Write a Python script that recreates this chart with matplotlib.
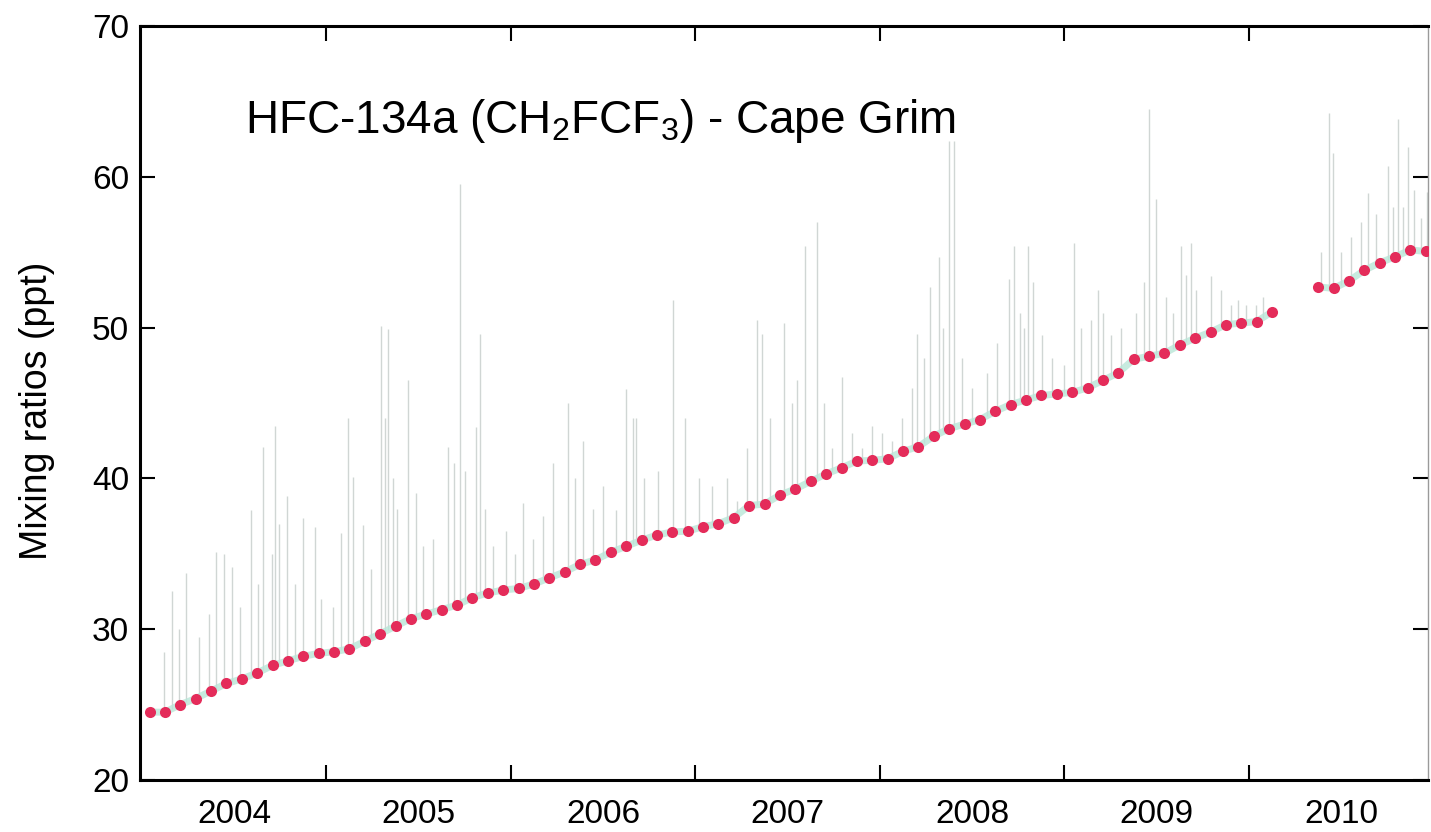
import numpy as np
import matplotlib.pyplot as plt
from matplotlib.ticker import FixedLocator, NullFormatter, FixedFormatter

plt.rcParams['font.family'] = ['Liberation Sans', 'DejaVu Sans']
plt.rcParams['mathtext.fontset'] = 'custom'
plt.rcParams['mathtext.rm'] = 'Liberation Sans'

# ---------- MONTHLY BASELINE (ppt) ----------
years = [2004, 2005, 2006, 2007, 2008, 2009, 2010]
base_2004 = [24.5, 24.5, 25.0, 25.4, 25.9, 26.4, 26.7, 27.1, 27.6, 27.9, 28.2, 28.4]
base_2005 = [28.5, 28.7, 29.2, 29.7, 30.2, 30.7, 31.0, 31.3, 31.6, 32.1, 32.4, 32.6]
base_2006 = [32.7, 33.0, 33.4, 33.8, 34.3, 34.6, 35.1, 35.5, 35.9, 36.25, 36.45, 36.5]
base_2007 = [36.8, 37.0, 37.4, 38.2, 38.3, 38.9, 39.3, 39.8, 40.3, 40.7, 41.15, 41.2]
base_2008 = [41.3, 41.8, 42.1, 42.8, 43.3, 43.6, 43.9, 44.45, 44.9, 45.2, 45.5, 45.6]
base_2009 = [45.7, 46.0, 46.5, 47.0, 47.9, 48.1, 48.3, 48.85, 49.3, 49.7, 50.2, 50.3]
base_2010 = [50.4, 51.05, np.nan, np.nan, 52.7, 52.6, 53.1, 53.8, 54.3, 54.7, 55.15, 55.05]

# ---------- POLLUTION EVENTS (time in decimal years, peak ppt) ----------
spike_time = [
    2004.119, 2004.162, 2004.200, 2004.238, 2004.308, 2004.362, 2004.400, 2004.443,
    2004.486, 2004.530, 2004.589, 2004.632, 2004.659, 2004.703, 2004.724, 2004.741,
    2004.784, 2004.832, 2004.876, 2004.941, 2004.973,
    2005.038, 2005.081, 2005.119, 2005.146, 2005.200, 2005.243, 2005.297, 2005.319,
    2005.335, 2005.362, 2005.384, 2005.443, 2005.486, 2005.524, 2005.578, 2005.659,
    2005.692, 2005.724, 2005.751, 2005.811, 2005.832, 2005.859, 2005.903, 2005.973,
    2006.022, 2006.065, 2006.119, 2006.173, 2006.227, 2006.308, 2006.346, 2006.389,
    2006.443, 2006.497, 2006.568, 2006.622, 2006.659, 2006.676, 2006.724, 2006.795,
    2006.876, 2006.941,
    2007.022, 2007.092, 2007.173, 2007.227, 2007.281, 2007.335, 2007.362, 2007.405,
    2007.481, 2007.524, 2007.551, 2007.595, 2007.659, 2007.697, 2007.741, 2007.795,
    2007.849, 2007.903, 2007.957,
    2008.011, 2008.065, 2008.119, 2008.173, 2008.200, 2008.238, 2008.270, 2008.319,
    2008.341, 2008.373, 2008.400, 2008.443, 2008.497, 2008.578, 2008.632, 2008.697,
    2008.724, 2008.757, 2008.778, 2008.805, 2008.827, 2008.876, 2008.930,
    2008.995, 2009.054, 2009.092, 2009.146, 2009.184, 2009.211, 2009.254, 2009.308,
    2009.389, 2009.432, 2009.459, 2009.497, 2009.551, 2009.589, 2009.632, 2009.659,
    2009.686, 2009.714, 2009.795, 2009.849, 2009.903, 2009.941, 2009.984,
    2010.038, 2010.076, 2010.389, 2010.432, 2010.454, 2010.497, 2010.551, 2010.605,
    2010.643, 2010.686, 2010.751, 2010.778, 2010.805, 2010.832, 2010.859, 2010.892,
    2010.930, 2010.962,
]
spike_peak = [
    28.5, 32.5, 30.0, 33.7, 29.5, 31.0, 35.1, 35.0,
    34.1, 31.5, 37.9, 33.0, 42.1, 35.0, 43.5, 37.0,
    38.8, 33.0, 37.4, 36.8, 32.0,
    31.5, 36.4, 44.0, 40.1, 36.9, 34.0, 50.1, 44.0,
    49.9, 40.0, 38.0, 46.5, 39.0, 35.5, 36.0, 42.1,
    41.0, 59.5, 40.5, 43.4, 49.6, 38.0, 35.5, 36.5,
    35.0, 38.4, 36.0, 37.5, 41.0, 45.0, 40.0, 42.5,
    38.0, 39.5, 37.9, 45.9, 44.0, 44.0, 40.0, 40.5,
    51.8, 44.0,
    40.0, 39.5, 40.0, 38.5, 42.0, 50.5, 49.6, 44.0,
    50.3, 45.0, 46.5, 55.4, 57.0, 45.0, 42.0, 46.7,
    43.0, 42.0, 43.5,
    43.0, 42.5, 44.0, 46.0, 49.6, 48.0, 52.7, 54.7,
    50.0, 62.4, 62.4, 48.0, 46.0, 47.0, 49.0, 53.2,
    55.4, 51.0, 50.0, 55.4, 53.0, 49.5, 48.0,
    47.5, 55.6, 50.0, 50.5, 52.5, 51.0, 49.5, 50.0,
    51.0, 53.0, 64.5, 58.5, 52.0, 51.0, 55.4, 53.5,
    55.6, 52.5, 53.4, 52.5, 51.5, 51.8, 51.5,
    51.5, 52.0, 55.0, 64.2, 61.6, 55.0, 56.0, 57.0,
    58.9, 57.5, 60.7, 58.0, 63.8, 58.0, 62.0, 59.1,
    57.3, 59.0,
]

baseline = np.array(base_2004 + base_2005 + base_2006 + base_2007 +
                    base_2008 + base_2009 + base_2010)
month_t = np.array([y + (m + 0.5) / 12 for y in years for m in range(12)])

# foot of each spike sits on the baseline
ok = ~np.isnan(baseline)
spike_foot = np.interp(spike_time, month_t[ok], baseline[ok])

fig = plt.figure(figsize=(14.31, 8.32), dpi=100)
ax = fig.add_axes([140 / 1431, 52 / 832, 1288 / 1431, 754 / 832])

ax.vlines(spike_time, spike_foot, spike_peak, color='#8a9a94', linewidth=1.0, alpha=0.4, zorder=2)
ax.plot(month_t, baseline, color='#b9e6d8', linewidth=5, alpha=0.8, zorder=2)
ax.plot(month_t, baseline, 'o', color='#e42c5a', markersize=8, markeredgewidth=0, zorder=3)

ax.set_xlim(2003.99, 2010.97)
ax.set_ylim(20, 70)

ax.set_yticks([20, 30, 40, 50, 60, 70])
ax.tick_params(axis='y', which='major', direction='in', length=11, width=1.5,
               labelsize=24, right=True, pad=8)

ax.xaxis.set_major_locator(FixedLocator([2005, 2006, 2007, 2008, 2009, 2010]))
ax.xaxis.set_major_formatter(NullFormatter())
ax.xaxis.set_minor_locator(FixedLocator([y + 0.5 for y in years]))
ax.xaxis.set_minor_formatter(FixedFormatter([str(y) for y in years]))
ax.tick_params(axis='x', which='major', direction='in', length=11, width=1.5, top=True)
ax.tick_params(axis='x', which='minor', length=0, labelsize=24, pad=14)

for side in ['left', 'bottom', 'top']:
    ax.spines[side].set_linewidth(2.2)
ax.spines['right'].set_linewidth(1.0)
ax.spines['right'].set_color('#9a9a9a')

ax.set_ylabel('Mixing ratios (ppt)', fontsize=27)
ax.yaxis.set_label_coords(-0.066, 0.49)

ax.text(0.0815, 0.874, r'HFC-134a (CH$_2$FCF$_3$) - Cape Grim', transform=ax.transAxes,
        fontsize=33, va='center', ha='left')

fig.savefig('out.png', dpi=100)
